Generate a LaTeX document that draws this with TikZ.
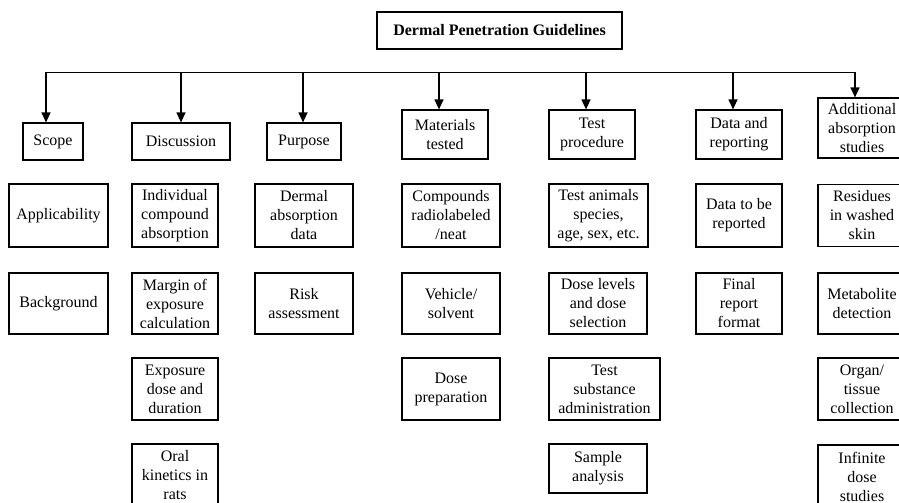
\documentclass[tikz,border=0pt]{standalone}
\usepackage{fontspec}
\setmainfont{Liberation Serif}
\usetikzlibrary{arrows.meta}
\newcommand{\bodyfnt}{\fontsize{16}{19}\selectfont}
\newcommand{\titlefnt}{\fontsize{16}{19}\selectfont\bfseries}
\tikzset{
  box/.style={draw, line width=1.2pt, inner sep=0pt, align=center, font=\bodyfnt},
  sz/.style 2 args={minimum width=#1pt, minimum height=#2pt},
  arr/.style={line width=1.2pt, -{Triangle[length=10pt,width=9pt]}},
  bus/.style={line width=1.2pt, line cap=rect}
}
\begin{document}
\begin{tikzpicture}[x=1pt,y=-1pt]
\useasboundingbox (0,0) rectangle (899,503);
% title
\node[box, sz={245}{37}, font=\titlefnt] (title) at (499.5,30.5) {Dermal Penetration Guidelines};
% row 1
\node[box, sz={60}{37}] (scope) at (53,141.5) {Scope};
\node[box, sz={98}{37}] (disc) at (181,141.5) {Discussion};
\node[box, sz={74}{37}] (purp) at (304,141.5) {Purpose};
\node[box, sz={86}{49}] (mat) at (445,134.5) {Materials\\tested};
\node[box, sz={86}{49}] (test) at (592,134.5) {Test\\procedure};
\node[box, sz={86}{49}] (data) at (739,134.5) {Data and\\reporting};
\node[box, sz={88}{60}] (addl) at (862,128) {Additional\\absorption\\studies};
% row 2
\node[box, sz={99}{63}] (appl) at (58.5,215.5) {Applicability};
\node[box, sz={86}{63}] (indiv) at (175,215.5) {Individual\\compound\\absorption};
\node[box, sz={98}{63}] (dermal) at (304,215.5) {Dermal\\absorption\\data};
\node[box, sz={98}{63}] (comp) at (451,215.5) {Compounds\\radiolabeled\\/neat};
\node[box, sz={99}{63}] (animals) at (598.5,215.5) {Test animals\\species,\\age, sex, etc.};
\node[box, sz={86}{63}] (report) at (739,215.5) {Data to be\\reported};
\node[box, sz={88}{62}] (resid) at (862,215.5) {Residues\\in washed\\skin};
% row 3
\node[box, sz={99}{61}] (backg) at (58.5,303.5) {Background};
\node[box, sz={86}{61}] (margin) at (175,303.5) {Margin of\\exposure\\calculation};
\node[box, sz={98}{61}] (risk) at (304,303.5) {Risk\\assessment};
\node[box, sz={98}{61}] (vehic) at (451,303.5) {Vehicle/\\solvent};
\node[box, sz={98}{61}] (doselev) at (598,303.5) {Dose levels\\and dose\\selection};
\node[box, sz={86}{61}] (final) at (739,303.5) {Final\\report\\format};
\node[box, sz={88}{61}] (metab) at (862,303.5) {Metabolite\\detection};
% row 4
\node[box, sz={86}{62}] (expo) at (175,389) {Exposure\\dose and\\duration};
\node[box, sz={98}{62}] (doseprep) at (451,389) {Dose\\preparation};
\node[box, sz={111}{62}] (admin) at (604.5,389) {Test\\substance\\administration};
\node[box, sz={88}{62}] (organ) at (862,389) {Organ/\\tissue\\collection};
% row 5
\node[box, sz={86}{63}] (oral) at (175,475.5) {Oral\\kinetics in\\rats};
\node[box, sz={98}{49}] (sample) at (598,468.5) {Sample\\analysis};
\node[box, sz={88}{63}] (infin) at (862,476.5) {Infinite\\dose\\studies};
% bus
\coordinate (b0) at (46,72.5);
\coordinate (b1) at (181,72.5);
\coordinate (b2) at (303,72.5);
\coordinate (b3) at (439,72.5);
\coordinate (b4) at (586,72.5);
\coordinate (b5) at (733,72.5);
\coordinate (b6) at (855,72.5);
\draw[bus] (b0) -- (b6);
\draw[arr] (b0) -- (b0 |- scope.north);
\draw[arr] (b1) -- (b1 |- disc.north);
\draw[arr] (b2) -- (b2 |- purp.north);
\draw[arr] (b3) -- (b3 |- mat.north);
\draw[arr] (b4) -- (b4 |- test.north);
\draw[arr] (b5) -- (b5 |- data.north);
\draw[arr] (b6) -- (b6 |- addl.north);
\end{tikzpicture}
\end{document}
